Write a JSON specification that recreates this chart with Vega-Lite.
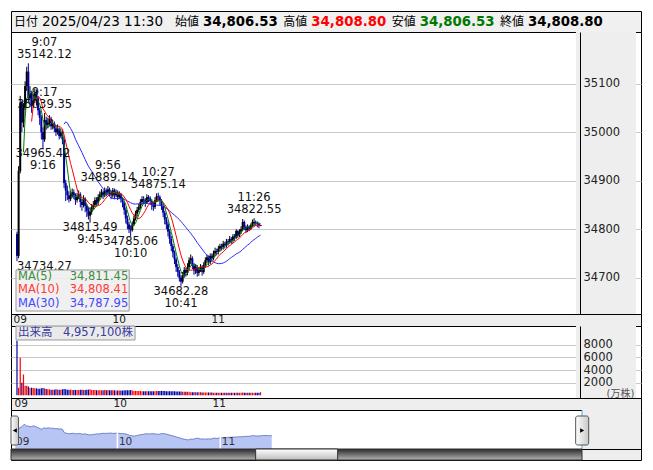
{
"$schema":"https://vega.github.io/schema/vega-lite/v6.json",
"padding":{"left":10,"top":10,"right":13,"bottom":11},
"background":"white",
"spacing":0,
"bounds":"flush",
"config":{"font":"DejaVu Sans, Noto Sans CJK JP","view":{"stroke":"#000","strokeWidth":1}},
"datasets":{
"ohlc":[
{"t":0,"o":34790,"h":34795,"l":34734.27,"c":34745,"v":8650},
{"t":1,"o":34745,"h":34930,"l":34740,"c":34920,"v":1200},
{"t":2,"o":34920,"h":35075,"l":34915,"c":35060,"v":5950},
{"t":3,"o":35060,"h":35065,"l":35000,"c":35020,"v":2000},
{"t":4,"o":35020,"h":35060,"l":35010,"c":35050,"v":3300},
{"t":5,"o":35050,"h":35105,"l":35045,"c":35095,"v":1500},
{"t":6,"o":35095,"h":35135,"l":35085,"c":35125,"v":1500},
{"t":7,"o":35125,"h":35142.12,"l":35060,"c":35070,"v":1400},
{"t":8,"o":35070,"h":35095,"l":35055,"c":35080,"v":1200},
{"t":9,"o":35080,"h":35085,"l":35040,"c":35055,"v":1200},
{"t":10,"o":35055,"h":35080,"l":35050,"c":35065,"v":1150},
{"t":11,"o":35065,"h":35090,"l":35060,"c":35080,"v":1100},
{"t":12,"o":35080,"h":35088,"l":35055,"c":35070,"v":1100},
{"t":13,"o":35070,"h":35075,"l":35035,"c":35045,"v":1050},
{"t":14,"o":35045,"h":35050,"l":35015,"c":35030,"v":1050},
{"t":15,"o":35030,"h":35035,"l":34985,"c":35000,"v":1100},
{"t":16,"o":35000,"h":35010,"l":34965.42,"c":34985,"v":1150},
{"t":17,"o":34985,"h":35039.35,"l":34980,"c":35025,"v":1100},
{"t":18,"o":35025,"h":35032,"l":35005,"c":35015,"v":1000},
{"t":19,"o":35015,"h":35030,"l":35008,"c":35020,"v":950},
{"t":20,"o":35020,"h":35035,"l":35012,"c":35028,"v":950},
{"t":21,"o":35028,"h":35032,"l":35005,"c":35012,"v":900},
{"t":22,"o":35012,"h":35026,"l":35006,"c":35018,"v":900},
{"t":23,"o":35018,"h":35022,"l":35000,"c":35008,"v":900},
{"t":24,"o":35008,"h":35015,"l":34992,"c":35000,"v":950},
{"t":25,"o":35000,"h":35016,"l":34995,"c":35006,"v":900},
{"t":26,"o":35006,"h":35010,"l":34985,"c":34992,"v":900},
{"t":27,"o":34992,"h":35008,"l":34988,"c":35000,"v":900},
{"t":28,"o":35000,"h":35004,"l":34975,"c":34985,"v":950},
{"t":29,"o":34985,"h":34990,"l":34885,"c":34895,"v":1000},
{"t":30,"o":34895,"h":34902,"l":34858,"c":34880,"v":950},
{"t":31,"o":34880,"h":34890,"l":34860,"c":34870,"v":900},
{"t":32,"o":34870,"h":34878,"l":34855,"c":34862,"v":900},
{"t":33,"o":34862,"h":34880,"l":34858,"c":34868,"v":900},
{"t":34,"o":34868,"h":34884,"l":34865,"c":34876,"v":850},
{"t":35,"o":34876,"h":34882,"l":34862,"c":34870,"v":850},
{"t":36,"o":34870,"h":34874,"l":34850,"c":34860,"v":850},
{"t":37,"o":34860,"h":34875,"l":34855,"c":34866,"v":850},
{"t":38,"o":34866,"h":34880,"l":34862,"c":34872,"v":850},
{"t":39,"o":34872,"h":34876,"l":34845,"c":34856,"v":900},
{"t":40,"o":34856,"h":34862,"l":34838,"c":34850,"v":900},
{"t":41,"o":34850,"h":34870,"l":34845,"c":34862,"v":850},
{"t":42,"o":34862,"h":34866,"l":34835,"c":34848,"v":850},
{"t":43,"o":34848,"h":34852,"l":34825,"c":34838,"v":900},
{"t":44,"o":34838,"h":34845,"l":34820,"c":34828,"v":900},
{"t":45,"o":34828,"h":34845,"l":34813.49,"c":34836,"v":950},
{"t":46,"o":34836,"h":34852,"l":34830,"c":34845,"v":850},
{"t":47,"o":34845,"h":34858,"l":34840,"c":34850,"v":850},
{"t":48,"o":34850,"h":34866,"l":34846,"c":34860,"v":850},
{"t":49,"o":34860,"h":34866,"l":34848,"c":34855,"v":800},
{"t":50,"o":34855,"h":34872,"l":34850,"c":34866,"v":800},
{"t":51,"o":34866,"h":34878,"l":34860,"c":34872,"v":800},
{"t":52,"o":34872,"h":34883,"l":34866,"c":34876,"v":800},
{"t":53,"o":34876,"h":34880,"l":34862,"c":34870,"v":800},
{"t":54,"o":34870,"h":34886,"l":34866,"c":34880,"v":850},
{"t":55,"o":34880,"h":34884,"l":34868,"c":34874,"v":800},
{"t":56,"o":34874,"h":34889.14,"l":34870,"c":34882,"v":850},
{"t":57,"o":34882,"h":34886,"l":34868,"c":34876,"v":800},
{"t":58,"o":34876,"h":34880,"l":34862,"c":34870,"v":800},
{"t":59,"o":34870,"h":34885,"l":34865,"c":34880,"v":800},
{"t":60,"o":34880,"h":34884,"l":34862,"c":34870,"v":800},
{"t":61,"o":34870,"h":34882,"l":34866,"c":34876,"v":750},
{"t":62,"o":34876,"h":34880,"l":34860,"c":34866,"v":750},
{"t":63,"o":34866,"h":34878,"l":34862,"c":34872,"v":750},
{"t":64,"o":34872,"h":34875,"l":34855,"c":34862,"v":750},
{"t":65,"o":34862,"h":34866,"l":34845,"c":34855,"v":750},
{"t":66,"o":34855,"h":34858,"l":34830,"c":34840,"v":800},
{"t":67,"o":34840,"h":34845,"l":34812,"c":34822,"v":800},
{"t":68,"o":34822,"h":34828,"l":34800,"c":34810,"v":800},
{"t":69,"o":34810,"h":34815,"l":34792,"c":34800,"v":800},
{"t":70,"o":34800,"h":34808,"l":34785.06,"c":34798,"v":850},
{"t":71,"o":34798,"h":34816,"l":34795,"c":34810,"v":750},
{"t":72,"o":34810,"h":34828,"l":34806,"c":34822,"v":700},
{"t":73,"o":34822,"h":34838,"l":34818,"c":34832,"v":700},
{"t":74,"o":34832,"h":34846,"l":34826,"c":34840,"v":700},
{"t":75,"o":34840,"h":34852,"l":34835,"c":34846,"v":700},
{"t":76,"o":34846,"h":34862,"l":34842,"c":34856,"v":700},
{"t":77,"o":34856,"h":34868,"l":34850,"c":34862,"v":650},
{"t":78,"o":34862,"h":34868,"l":34852,"c":34860,"v":650},
{"t":79,"o":34860,"h":34864,"l":34846,"c":34855,"v":650},
{"t":80,"o":34855,"h":34872,"l":34852,"c":34866,"v":650},
{"t":81,"o":34866,"h":34870,"l":34856,"c":34864,"v":650},
{"t":82,"o":34864,"h":34868,"l":34850,"c":34858,"v":650},
{"t":83,"o":34858,"h":34862,"l":34840,"c":34850,"v":650},
{"t":84,"o":34850,"h":34856,"l":34838,"c":34846,"v":650},
{"t":85,"o":34846,"h":34866,"l":34842,"c":34860,"v":650},
{"t":86,"o":34860,"h":34874,"l":34856,"c":34868,"v":700},
{"t":87,"o":34868,"h":34875.14,"l":34858,"c":34866,"v":700},
{"t":88,"o":34866,"h":34870,"l":34850,"c":34858,"v":700},
{"t":89,"o":34858,"h":34862,"l":34840,"c":34848,"v":700},
{"t":90,"o":34848,"h":34852,"l":34825,"c":34834,"v":700},
{"t":91,"o":34834,"h":34838,"l":34810,"c":34820,"v":700},
{"t":92,"o":34820,"h":34825,"l":34800,"c":34810,"v":650},
{"t":93,"o":34810,"h":34815,"l":34785,"c":34795,"v":650},
{"t":94,"o":34795,"h":34800,"l":34770,"c":34780,"v":650},
{"t":95,"o":34780,"h":34786,"l":34755,"c":34765,"v":650},
{"t":96,"o":34765,"h":34770,"l":34742,"c":34752,"v":650},
{"t":97,"o":34752,"h":34756,"l":34728,"c":34738,"v":650},
{"t":98,"o":34738,"h":34742,"l":34712,"c":34722,"v":600},
{"t":99,"o":34722,"h":34728,"l":34702,"c":34712,"v":600},
{"t":100,"o":34712,"h":34716,"l":34692,"c":34700,"v":600},
{"t":101,"o":34700,"h":34705,"l":34682.28,"c":34692,"v":600},
{"t":102,"o":34692,"h":34712,"l":34688,"c":34705,"v":550},
{"t":103,"o":34705,"h":34722,"l":34700,"c":34716,"v":550},
{"t":104,"o":34716,"h":34720,"l":34702,"c":34710,"v":550},
{"t":105,"o":34710,"h":34730,"l":34705,"c":34722,"v":550},
{"t":106,"o":34722,"h":34742,"l":34716,"c":34736,"v":550},
{"t":107,"o":34736,"h":34748,"l":34728,"c":34740,"v":500},
{"t":108,"o":34740,"h":34744,"l":34718,"c":34725,"v":500},
{"t":109,"o":34725,"h":34730,"l":34706,"c":34715,"v":500},
{"t":110,"o":34715,"h":34728,"l":34708,"c":34722,"v":500},
{"t":111,"o":34722,"h":34726,"l":34702,"c":34710,"v":500},
{"t":112,"o":34710,"h":34722,"l":34704,"c":34716,"v":500},
{"t":113,"o":34716,"h":34728,"l":34712,"c":34722,"v":500},
{"t":114,"o":34722,"h":34726,"l":34704,"c":34712,"v":450},
{"t":115,"o":34712,"h":34732,"l":34708,"c":34726,"v":450},
{"t":116,"o":34726,"h":34742,"l":34720,"c":34736,"v":450},
{"t":117,"o":34736,"h":34748,"l":34730,"c":34742,"v":450},
{"t":118,"o":34742,"h":34746,"l":34725,"c":34732,"v":450},
{"t":119,"o":34732,"h":34750,"l":34728,"c":34745,"v":450},
{"t":120,"o":34745,"h":34750,"l":34733,"c":34740,"v":450},
{"t":121,"o":34740,"h":34756,"l":34736,"c":34750,"v":400},
{"t":122,"o":34750,"h":34762,"l":34744,"c":34755,"v":400},
{"t":123,"o":34755,"h":34760,"l":34746,"c":34753,"v":400},
{"t":124,"o":34753,"h":34766,"l":34748,"c":34760,"v":400},
{"t":125,"o":34760,"h":34770,"l":34754,"c":34765,"v":400},
{"t":126,"o":34765,"h":34770,"l":34756,"c":34763,"v":400},
{"t":127,"o":34763,"h":34776,"l":34758,"c":34770,"v":400},
{"t":128,"o":34770,"h":34774,"l":34760,"c":34767,"v":400},
{"t":129,"o":34767,"h":34780,"l":34762,"c":34775,"v":400},
{"t":130,"o":34775,"h":34780,"l":34766,"c":34773,"v":400},
{"t":131,"o":34773,"h":34786,"l":34770,"c":34780,"v":400},
{"t":132,"o":34780,"h":34784,"l":34770,"c":34777,"v":400},
{"t":133,"o":34777,"h":34790,"l":34772,"c":34785,"v":400},
{"t":134,"o":34785,"h":34790,"l":34776,"c":34783,"v":400},
{"t":135,"o":34783,"h":34800,"l":34780,"c":34796.4,"v":400},
{"t":136,"o":34796.4,"h":34798,"l":34782,"c":34787,"v":400},
{"t":137,"o":34787,"h":34800,"l":34784,"c":34795,"v":400},
{"t":138,"o":34795,"h":34806,"l":34790,"c":34800,"v":400},
{"t":139,"o":34800,"h":34821,"l":34796,"c":34815,"v":450},
{"t":140,"o":34815,"h":34818,"l":34798,"c":34805,"v":400},
{"t":141,"o":34805,"h":34808,"l":34792,"c":34798,"v":400},
{"t":142,"o":34798,"h":34810,"l":34794,"c":34805,"v":400},
{"t":143,"o":34805,"h":34808,"l":34796,"c":34800.85,"v":400},
{"t":144,"o":34800.85,"h":34812,"l":34798,"c":34808,"v":400},
{"t":145,"o":34808,"h":34820,"l":34804,"c":34815,"v":400},
{"t":146,"o":34812,"h":34822.55,"l":34806,"c":34815,"v":400},
{"t":147,"o":34815,"h":34818,"l":34808,"c":34814,"v":400},
{"t":148,"o":34814,"h":34816,"l":34804,"c":34811.45,"v":400},
{"t":149,"o":34811.45,"h":34813,"l":34802,"c":34808,"v":400},
{"t":150,"o":34806.53,"h":34808.8,"l":34806.53,"c":34808.8,"v":496}
],
"notes":[
{"t":7,"p":35142.12,"lab":"35142.12","tl":"9:07","k":"hi"},
{"t":17,"p":35039.35,"lab":"35039.35","tl":"9:17","k":"hi"},
{"t":16,"p":34965.42,"lab":"34965.42","tl":"9:16","k":"lo"},
{"t":56,"p":34889.14,"lab":"34889.14","tl":"9:56","k":"hi"},
{"t":45,"p":34813.49,"lab":"34813.49","tl":"9:45","k":"lo"},
{"t":70,"p":34785.06,"lab":"34785.06","tl":"10:10","k":"lo"},
{"t":87,"p":34875.14,"lab":"34875.14","tl":"10:27","k":"hi"},
{"t":101,"p":34682.28,"lab":"34682.28","tl":"10:41","k":"lo"},
{"t":146,"p":34822.55,"lab":"34822.55","tl":"11:26","k":"hi"},
{"t":0,"p":34734.27,"lab":"34734.27","tl":"9:00","k":"lo"}
],
"hours":[{"t":0,"lab":"09"},{"t":60,"lab":"10"},{"t":120,"lab":"11"}]
},
"vconcat":[
{
"width":630,"height":21,
"view":{"fill":"#f0f0f0","stroke":"#000"},
"data":{"values":[{"k":"始値","v":"34,806.53"},{"k":"高値","v":"34,808.80"},{"k":"安値","v":"34,806.53"},{"k":"終値","v":"34,808.80"}]},
"encoding":{"x":{"field":"k","type":"nominal","sort":null,"scale":{"type":"point","domain":["始値","高値","安値","終値"],"range":[164,489],"padding":0},"axis":null}},
"layer":[
{"mark":{"type":"text","align":"left","fontSize":12,"color":"#000"},"encoding":{"text":{"field":"k"}}},
{"mark":{"type":"text","align":"left","dx":28,"fontSize":13.3,"fontWeight":"bold"},"encoding":{"text":{"field":"v"},"color":{"condition":[{"test":"datum.k==='高値'","value":"#ff0000"},{"test":"datum.k==='安値'","value":"#007800"}],"value":"#000"}}},
{"data":{"values":[{"k":"日付","v":"2025/04/23 11:30"}]},"layer":[
{"mark":{"type":"text","align":"left","dx":-161,"fontSize":12,"color":"#000"},"encoding":{"x":{"datum":"始値"},"text":{"field":"k"}}},
{"mark":{"type":"text","align":"left","dx":-133,"fontSize":13.5,"color":"#000"},"encoding":{"x":{"datum":"始値"},"text":{"field":"v"}}}
]}
]
},
{
"width":630,"height":282,
"view":{"fill":"#fff","stroke":"#000"},
"resolve":{"axis":{"y":"independent"}},
"layer":[
{"data":{"name":"ohlc"},"mark":{"type":"rule","strokeWidth":1},
"encoding":{
"x":{"field":"t","type":"quantitative","scale":{"domain":[-0.606,381.2],"nice":false,"zero":false},"axis":{"values":[0,60,120],"grid":true,"gridColor":"#c8c8c8","labels":false,"ticks":false,"domain":false,"title":null}},
"y":{"field":"l","type":"quantitative","scale":{"domain":[34625.2,35206.6],"nice":false,"zero":false},"axis":{"orient":"left","values":[34700,34800,34900,35000,35100],"grid":true,"gridColor":"#c8c8c8","labels":false,"ticks":false,"domain":false,"title":null}},
"y2":{"field":"h"},
"color":{"condition":{"test":"datum.c>=datum.o","value":"#000000"},"value":"#0000a0"}}},
{"data":{"values":[{}]},"mark":{"type":"rect","fill":"#eeeeee"},"encoding":{"x":{"datum":344.2},"x2":{"datum":381.2}}},
{"data":{"name":"ohlc"},"mark":{"type":"bar","size":2},
"encoding":{
"x":{"field":"t","type":"quantitative","axis":null},
"y":{"field":"o","type":"quantitative","axis":null},
"y2":{"field":"c"},
"color":{"condition":{"test":"datum.c>=datum.o","value":"#000000"},"value":"#0000a0"}}},
{"data":{"name":"ohlc"},"transform":[{"window":[{"op":"mean","field":"c","as":"ma"},{"op":"count","as":"n"}],"frame":[-29,0],"sort":[{"field":"t","order":"ascending"}]},{"filter":"datum.n>=30"}],
"mark":{"type":"line","color":"#2828ff","strokeWidth":1},
"encoding":{"x":{"field":"t","type":"quantitative","axis":null},"y":{"field":"ma","type":"quantitative","axis":null}}},
{"data":{"name":"ohlc"},"transform":[{"window":[{"op":"mean","field":"c","as":"ma"},{"op":"count","as":"n"}],"frame":[-9,0],"sort":[{"field":"t","order":"ascending"}]},{"filter":"datum.n>=10"}],
"mark":{"type":"line","color":"#ff0000","strokeWidth":1},
"encoding":{"x":{"field":"t","type":"quantitative","axis":null},"y":{"field":"ma","type":"quantitative","axis":null}}},
{"data":{"name":"ohlc"},"transform":[{"window":[{"op":"mean","field":"c","as":"ma"},{"op":"count","as":"n"}],"frame":[-4,0],"sort":[{"field":"t","order":"ascending"}]},{"filter":"datum.n>=5"}],
"mark":{"type":"line","color":"#008000","strokeWidth":1},
"encoding":{"x":{"field":"t","type":"quantitative","axis":null},"y":{"field":"ma","type":"quantitative","axis":null}}},
{"data":{"name":"notes"},"transform":[{"filter":"datum.k==='hi' && datum.t!==7"}],
"encoding":{"x":{"field":"t","type":"quantitative","axis":null},"y":{"field":"p","type":"quantitative","axis":null}},
"layer":[
{"mark":{"type":"text","dy":-8,"fontSize":11.5,"color":"#111"},"encoding":{"text":{"field":"lab"}}},
{"mark":{"type":"text","dy":-20,"fontSize":11.5,"color":"#111"},"encoding":{"text":{"field":"tl"}}}]},
{"data":{"name":"notes"},"transform":[{"filter":"datum.t===7"}],
"encoding":{"x":{"field":"t","type":"quantitative","axis":null},"y":{"field":"p","type":"quantitative","axis":null}},
"layer":[
{"mark":{"type":"text","dy":-8,"dx":16,"fontSize":11.5,"color":"#111"},"encoding":{"text":{"field":"lab"}}},
{"mark":{"type":"text","dy":-20,"dx":16,"fontSize":11.5,"color":"#111"},"encoding":{"text":{"field":"tl"}}}]},
{"data":{"name":"notes"},"transform":[{"filter":"datum.k==='lo' && datum.t!==0"}],
"encoding":{"x":{"field":"t","type":"quantitative","axis":null},"y":{"field":"p","type":"quantitative","axis":null}},
"layer":[
{"mark":{"type":"text","dy":5.5,"fontSize":11.5,"color":"#111"},"encoding":{"text":{"field":"lab"}}},
{"mark":{"type":"text","dy":17.5,"fontSize":11.5,"color":"#111"},"encoding":{"text":{"field":"tl"}}}]},
{"data":{"name":"notes"},"transform":[{"filter":"datum.t===0"}],
"mark":{"type":"text","dy":5.5,"dx":27.5,"fontSize":11.5,"color":"#111"},
"encoding":{"x":{"field":"t","type":"quantitative","axis":null},"y":{"field":"p","type":"quantitative","axis":null},"text":{"field":"lab"}}},
{"data":{"values":[{}]},"mark":{"type":"rect","fill":"#eeeeee","fillOpacity":0.9,"stroke":"#999999","strokeWidth":1},
"encoding":{"x":{"datum":-0.6},"x2":{"datum":69.1},"y":{"datum":34715.9,"axis":null},"y2":{"datum":34631.3}}},
{"data":{"values":[{"a":"MA(5)","b":"34,811.45"}]},"encoding":{"y":{"datum":34701.4,"axis":null},"color":{"value":"#3d8c3d"}},"layer":[
{"mark":{"type":"text","align":"left","fontSize":11.5},"encoding":{"x":{"datum":0.606},"text":{"field":"a"}}},
{"mark":{"type":"text","align":"right","fontSize":11.5},"encoding":{"x":{"datum":68.5},"text":{"field":"b"}}}]},
{"data":{"values":[{"a":"MA(10)","b":"34,808.41"}]},"encoding":{"y":{"datum":34674.0,"axis":null},"color":{"value":"#ff3a3a"}},"layer":[
{"mark":{"type":"text","align":"left","fontSize":11.5},"encoding":{"x":{"datum":0.606},"text":{"field":"a"}}},
{"mark":{"type":"text","align":"right","fontSize":11.5},"encoding":{"x":{"datum":68.5},"text":{"field":"b"}}}]},
{"data":{"values":[{"a":"MA(30)","b":"34,787.95"}]},"encoding":{"y":{"datum":34645.2,"axis":null},"color":{"value":"#4646ff"}},"layer":[
{"mark":{"type":"text","align":"left","fontSize":11.5},"encoding":{"x":{"datum":0.606},"text":{"field":"a"}}},
{"mark":{"type":"text","align":"right","fontSize":11.5},"encoding":{"x":{"datum":68.5},"text":{"field":"b"}}}]},
{"data":{"name":"ohlc"},"mark":{"type":"point","opacity":0},
"encoding":{"x":{"field":"t","type":"quantitative","axis":null},
"y":{"field":"c","type":"quantitative","axis":{"orient":"right","offset":-61,"values":[34700,34800,34900,35000,35100],"format":"d","grid":false,"ticks":false,"domain":true,"domainColor":"#000","labelAlign":"left","labelPadding":3,"labelFontSize":11.5,"labelColor":"#222","title":null,"zindex":2}}}}
]
},
{
"width":630,"height":12,
"view":{"fill":"#eeeeee","stroke":"#000"},
"data":{"name":"hours"},
"mark":{"type":"text","align":"left","dx":1.5,"fontSize":10.5,"color":"#222"},
"encoding":{"x":{"field":"t","type":"quantitative","scale":{"domain":[-0.606,381.2],"nice":false,"zero":false},"axis":null},"text":{"field":"lab"}}
},
{
"width":630,"height":72,
"view":{"fill":"#fff","stroke":"#000"},
"resolve":{"axis":{"y":"independent"}},
"layer":[
{"data":{"name":"ohlc"},"mark":{"type":"bar","size":1.2},
"encoding":{
"x":{"field":"t","type":"quantitative","scale":{"domain":[-0.606,381.2],"nice":false,"zero":false},"axis":{"values":[0,60,120],"grid":true,"gridColor":"#c8c8c8","labels":false,"ticks":false,"domain":false,"title":null}},
"y":{"field":"v","type":"quantitative","scale":{"domain":[-428.6,11000],"nice":false,"zero":false},"axis":{"orient":"left","values":[2000,4000,6000,8000],"grid":true,"gridColor":"#c8c8c8","labels":false,"ticks":false,"domain":false,"title":null}},
"color":{"condition":{"test":"datum.c>=datum.o","value":"#ff0000"},"value":"#0000a0"}}},
{"data":{"values":[{}]},"mark":{"type":"rect","fill":"#eeeeee"},"encoding":{"x":{"datum":344.2},"x2":{"datum":381.2}}},
{"data":{"values":[{}]},"mark":{"type":"rect","fill":"#e8e8e8","fillOpacity":0.9,"stroke":"#999999","strokeWidth":1},
"encoding":{"x":{"datum":-0.6},"x2":{"datum":72.7},"y":{"datum":11000,"axis":null},"y2":{"datum":8778}}},
{"data":{"values":[{"a":"出来高","b":"4,957,100株"}]},"encoding":{"y":{"datum":9889,"axis":null},"color":{"value":"#3a3aa0"}},"layer":[
{"mark":{"type":"text","align":"left","fontSize":11.5},"encoding":{"x":{"datum":0.606},"text":{"field":"a"}}},
{"mark":{"type":"text","align":"right","fontSize":11.5},"encoding":{"x":{"datum":71.5},"text":{"field":"b"}}}]},
{"data":{"name":"ohlc"},"mark":{"type":"point","opacity":0},
"encoding":{"x":{"field":"t","type":"quantitative","axis":null},
"y":{"field":"v","type":"quantitative","axis":{"orient":"right","offset":-61,"values":[2000,4000,6000,8000],"format":"d","grid":false,"ticks":false,"domain":true,"domainColor":"#000","labelAlign":"left","labelPadding":3,"labelFontSize":11.5,"labelColor":"#222","title":"(万株)","titleAngle":0,"titleX":40,"titleY":67.5,"titleAlign":"center","titleBaseline":"middle","titleFontSize":10,"titleFontWeight":"normal","titleColor":"#555","zindex":2}}}}
]
},
{
"width":630,"height":12,
"view":{"fill":"#eeeeee","stroke":"#000"},
"data":{"name":"hours"},
"mark":{"type":"text","align":"left","dx":2.5,"fontSize":10.5,"color":"#222"},
"encoding":{"x":{"field":"t","type":"quantitative","scale":{"domain":[-0.606,381.2],"nice":false,"zero":false},"axis":null},"text":{"field":"lab"}}
},
{
"width":630,"height":39,
"view":{"fill":"#fff","stroke":"#000"},
"layer":[
{"data":{"name":"ohlc"},"mark":{"type":"area","color":"#b7c5f5","opacity":1,"line":{"color":"#7080c6","strokeWidth":1}},
"encoding":{"x":{"field":"t","type":"quantitative","scale":{"domain":[-2.04,365.3],"nice":false,"zero":false},"axis":null},
"y":{"field":"c","type":"quantitative","scale":{"domain":[34441,35521.5],"nice":false,"zero":false},"axis":null},
"y2":{"datum":34441}}},
{"data":{"name":"hours"},"mark":{"type":"rule","color":"#ffffff","strokeWidth":1.5},
"encoding":{"x":{"field":"t","type":"quantitative"},"y":{"datum":34884},"y2":{"datum":34441}}},
{"data":{"name":"hours"},"mark":{"type":"text","align":"left","dx":1.5,"fontSize":10.5,"color":"#333"},
"encoding":{"x":{"field":"t","type":"quantitative"},"y":{"datum":34643},"text":{"field":"lab"}}},
{"data":{"values":[{}]},"mark":{"type":"rect","fill":"#eeeeee"},"encoding":{"x":{"datum":330.9},"x2":{"datum":365.3}}},
{"data":{"values":[{}]},"mark":{"type":"rule","color":"#3ab0e0","strokeWidth":1},"encoding":{"x":{"datum":330.9}}},
{"data":{"values":[{}]},"mark":{"type":"rect","stroke":"#555","strokeWidth":1,"cornerRadius":2,"fill":{"gradient":"linear","x1":0,"y1":0,"x2":1,"y2":0,"stops":[{"offset":0,"color":"#ffffff"},{"offset":1,"color":"#c8c8c8"}]}},
"encoding":{"x":{"datum":-2.04},"x2":{"datum":2.33},"y":{"datum":35355},"y2":{"datum":34552}}},
{"data":{"values":[{}]},"mark":{"type":"rect","stroke":"#555","strokeWidth":1,"cornerRadius":2,"fill":{"gradient":"linear","x1":0,"y1":0,"x2":1,"y2":0,"stops":[{"offset":0,"color":"#ffffff"},{"offset":1,"color":"#c8c8c8"}]}},
"encoding":{"x":{"datum":327.2},"x2":{"datum":334.8},"y":{"datum":35355},"y2":{"datum":34552}}},
{"data":{"values":[{}]},"mark":{"type":"point","shape":"triangle-left","filled":true,"color":"#000","size":22,"opacity":1},
"encoding":{"x":{"datum":0.2},"y":{"datum":34953}}},
{"data":{"values":[{}]},"mark":{"type":"point","shape":"triangle-right","filled":true,"color":"#000","size":22,"opacity":1},
"encoding":{"x":{"datum":331},"y":{"datum":34953}}}
]
},
{
"width":630,"height":11,
"view":{"fill":"#eeeeee","stroke":"#000"},
"data":{"values":[{}]},
"layer":[
{"mark":{"type":"rect","stroke":"#333","strokeWidth":1,"fill":{"gradient":"linear","x1":0,"y1":0,"x2":0,"y2":1,"stops":[{"offset":0,"color":"#2a2a2a"},{"offset":1,"color":"#b4b4b4"}]}},
"encoding":{"x":{"datum":-2.04,"type":"quantitative","scale":{"domain":[-2.04,365.3],"nice":false,"zero":false},"axis":null},"x2":{"datum":330.9}}},
{"mark":{"type":"rect","stroke":"#333","strokeWidth":1,"fill":{"gradient":"linear","x1":0,"y1":0,"x2":0,"y2":1,"stops":[{"offset":0,"color":"#ffffff"},{"offset":1,"color":"#bdbdbd"}]}},
"encoding":{"x":{"datum":140.6},"x2":{"datum":188.4}}}
]
}
]
}
